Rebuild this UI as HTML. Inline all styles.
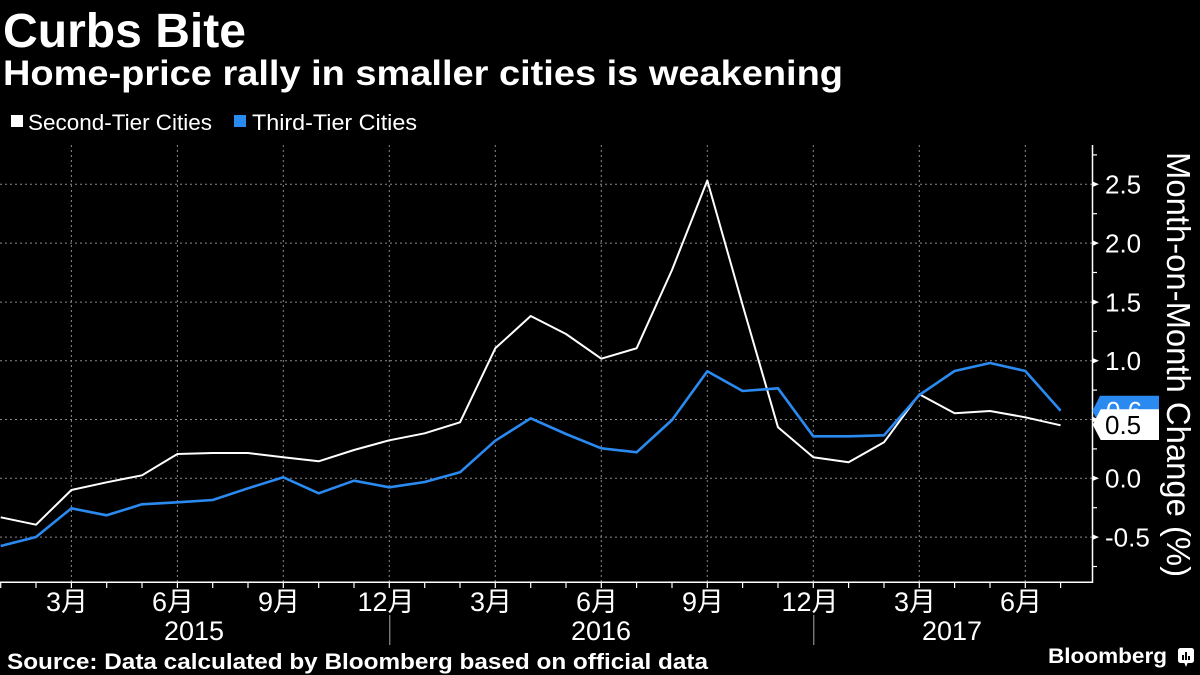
<!DOCTYPE html>
<html>
<head>
<meta charset="utf-8">
<style>
html,body{margin:0;padding:0;background:#000;}
svg{display:block;}
text{font-family:"Liberation Sans","Noto Sans CJK SC",sans-serif;}
</style>
</head>
<body>
<svg width="1200" height="675" viewBox="0 0 1200 675" xmlns="http://www.w3.org/2000/svg">
<rect x="0" y="0" width="1200" height="675" fill="#000"/>

<!-- Title -->
<text x="3" y="47" font-size="48" font-weight="bold" fill="#fff" textLength="243" lengthAdjust="spacingAndGlyphs">Curbs Bite</text>
<text x="3" y="85" font-size="35" font-weight="bold" fill="#fff" textLength="840" lengthAdjust="spacingAndGlyphs">Home-price rally in smaller cities is weakening</text>

<!-- Legend -->
<rect x="11" y="115" width="12" height="12" fill="#fff"/>
<text x="28" y="130" font-size="22" fill="#fff" textLength="184" lengthAdjust="spacingAndGlyphs">Second-Tier Cities</text>
<rect x="234" y="115" width="12" height="12" fill="#2a8af0"/>
<text x="252" y="130" font-size="22" fill="#fff" textLength="165" lengthAdjust="spacingAndGlyphs">Third-Tier Cities</text>

<!-- Horizontal grid -->
<g stroke="#8a8a8a" stroke-width="1" stroke-dasharray="2,3">
<line x1="0" y1="184.3" x2="1092" y2="184.3"/>
<line x1="0" y1="243.1" x2="1092" y2="243.1"/>
<line x1="0" y1="302.1" x2="1092" y2="302.1"/>
<line x1="0" y1="360.7" x2="1092" y2="360.7"/>
<line x1="0" y1="419.5" x2="1092" y2="419.5"/>
<line x1="0" y1="478.3" x2="1092" y2="478.3"/>
<line x1="0" y1="537.1" x2="1092" y2="537.1"/>
<!-- Vertical grid -->
<line x1="71.4" y1="145" x2="71.4" y2="582"/>
<line x1="177.4" y1="145" x2="177.4" y2="582"/>
<line x1="283.3" y1="145" x2="283.3" y2="582"/>
<line x1="389.3" y1="145" x2="389.3" y2="582"/>
<line x1="495.3" y1="145" x2="495.3" y2="582"/>
<line x1="601.3" y1="145" x2="601.3" y2="582"/>
<line x1="707.3" y1="145" x2="707.3" y2="582"/>
<line x1="813.3" y1="145" x2="813.3" y2="582"/>
<line x1="919.3" y1="145" x2="919.3" y2="582"/>
<line x1="1025.3" y1="145" x2="1025.3" y2="582"/>
</g>

<!-- Series: Second-Tier (white) -->
<polyline fill="none" stroke="#fff" stroke-width="2" stroke-linejoin="round"
points="0.7,517.3 36.0,524.7 71.4,490 106.7,482.3 142.0,475.3 177.4,454 212.7,453 248.0,453 283.3,457.3 318.7,461.3 354.0,450 389.3,440.3 424.7,433.3 460.0,422.3 495.3,348.3 530.7,316 566.0,334 601.3,358.7 636.6,348.3 672.0,270 707.3,180.5 742.6,305 778.0,427.3 813.3,457.3 848.6,462.3 884.0,442.3 919.3,394.3 954.6,413.3 990.0,411 1025.3,417.3 1060.6,425.3"/>

<!-- Series: Third-Tier (blue) -->
<polyline fill="none" stroke="#2a8af0" stroke-width="2.6" stroke-linejoin="round"
points="0.7,546 36.0,537 71.4,508.3 106.7,515.3 142.0,504.3 177.4,502.3 212.7,500 248.0,488.3 283.3,477.3 318.7,493.3 354.0,480.7 389.3,487.3 424.7,482 460.0,472.3 495.3,440.7 530.7,418.3 566.0,434 601.3,448.3 636.6,452.3 672.0,420 707.3,371.3 742.6,391 778.0,388.3 813.3,436.3 848.6,436.3 884.0,435.3 919.3,395 954.6,371 990.0,363 1025.3,371 1060.6,410.7"/>

<!-- Axes -->
<line x1="0" y1="582.3" x2="1092.5" y2="582.3" stroke="#fff" stroke-width="1.5"/>
<line x1="1092.5" y1="145" x2="1092.5" y2="583" stroke="#fff" stroke-width="1.5"/>

<!-- Bottom month ticks -->
<g stroke="#fff" stroke-width="1.2">
<line x1="0.7" y1="582" x2="0.7" y2="588"/>
<line x1="36.0" y1="582" x2="36.0" y2="588"/>
<line x1="71.4" y1="582" x2="71.4" y2="588"/>
<line x1="106.7" y1="582" x2="106.7" y2="588"/>
<line x1="142.0" y1="582" x2="142.0" y2="588"/>
<line x1="177.4" y1="582" x2="177.4" y2="588"/>
<line x1="212.7" y1="582" x2="212.7" y2="588"/>
<line x1="248.0" y1="582" x2="248.0" y2="588"/>
<line x1="283.3" y1="582" x2="283.3" y2="588"/>
<line x1="318.7" y1="582" x2="318.7" y2="588"/>
<line x1="354.0" y1="582" x2="354.0" y2="588"/>
<line x1="389.3" y1="582" x2="389.3" y2="588"/>
<line x1="424.7" y1="582" x2="424.7" y2="588"/>
<line x1="460.0" y1="582" x2="460.0" y2="588"/>
<line x1="495.3" y1="582" x2="495.3" y2="588"/>
<line x1="530.7" y1="582" x2="530.7" y2="588"/>
<line x1="566.0" y1="582" x2="566.0" y2="588"/>
<line x1="601.3" y1="582" x2="601.3" y2="588"/>
<line x1="636.6" y1="582" x2="636.6" y2="588"/>
<line x1="672.0" y1="582" x2="672.0" y2="588"/>
<line x1="707.3" y1="582" x2="707.3" y2="588"/>
<line x1="742.6" y1="582" x2="742.6" y2="588"/>
<line x1="778.0" y1="582" x2="778.0" y2="588"/>
<line x1="813.3" y1="582" x2="813.3" y2="588"/>
<line x1="848.6" y1="582" x2="848.6" y2="588"/>
<line x1="884.0" y1="582" x2="884.0" y2="588"/>
<line x1="919.3" y1="582" x2="919.3" y2="588"/>
<line x1="954.6" y1="582" x2="954.6" y2="588"/>
<line x1="990.0" y1="582" x2="990.0" y2="588"/>
<line x1="1025.3" y1="582" x2="1025.3" y2="588"/>
<line x1="1060.6" y1="582" x2="1060.6" y2="588"/>
</g>
<!-- Year separators -->
<line x1="389.8" y1="615" x2="389.8" y2="645" stroke="#aaa" stroke-width="1"/>
<line x1="813.8" y1="615" x2="813.8" y2="645" stroke="#aaa" stroke-width="1"/>

<!-- Month labels -->
<g font-size="27" fill="#fff" text-anchor="middle">
<text x="67" y="611">3月</text>
<text x="173" y="611">6月</text>
<text x="279" y="611">9月</text>
<text x="386" y="611">12月</text>
<text x="491" y="611">3月</text>
<text x="597" y="611">6月</text>
<text x="703" y="611">9月</text>
<text x="810" y="611">12月</text>
<text x="915" y="611">3月</text>
<text x="1021" y="611">6月</text>
</g>
<!-- Year labels -->
<g font-size="27" fill="#fff" text-anchor="middle">
<text x="194" y="640">2015</text>
<text x="601" y="640">2016</text>
<text x="952" y="640">2017</text>
</g>

<!-- Right axis ticks -->
<g fill="#fff">
<polygon points="1092,181.3 1099,184.3 1092,187.3"/>
<polygon points="1092,240.1 1099,243.1 1092,246.1"/>
<polygon points="1092,299.1 1099,302.1 1092,305.1"/>
<polygon points="1092,357.7 1099,360.7 1092,363.7"/>
<polygon points="1092,416.5 1099,419.5 1092,422.5"/>
<polygon points="1092,475.3 1099,478.3 1092,481.3"/>
<polygon points="1092,534.1 1099,537.1 1092,540.1"/>
</g>
<g stroke="#fff" stroke-width="1.2">
<line x1="1092" y1="154.9" x2="1097" y2="154.9"/>
<line x1="1092" y1="213.7" x2="1097" y2="213.7"/>
<line x1="1092" y1="272.5" x2="1097" y2="272.5"/>
<line x1="1092" y1="331.3" x2="1097" y2="331.3"/>
<line x1="1092" y1="390.1" x2="1097" y2="390.1"/>
<line x1="1092" y1="448.9" x2="1097" y2="448.9"/>
<line x1="1092" y1="507.7" x2="1097" y2="507.7"/>
<line x1="1092" y1="566.5" x2="1097" y2="566.5"/>
</g>

<!-- Right axis labels -->
<g font-size="26" fill="#fff">
<text x="1105" y="193.5">2.5</text>
<text x="1105" y="252.3">2.0</text>
<text x="1105" y="311.3">1.5</text>
<text x="1105" y="369.9">1.0</text>
<text x="1105" y="487.5">0.0</text>
<text x="1105" y="546.3">-0.5</text>
</g>

<!-- Value tags -->
<polygon points="1100,395.7 1159,395.7 1159,425.7 1100,425.7 1092.5,410.7" fill="#2a8af0"/>
<text x="1106" y="420" font-size="26" fill="#fff">0.6</text>
<polygon points="1100.7,409.3 1159,409.3 1159,440 1100.7,440 1092.7,424.7" fill="#fff"/>
<text x="1105" y="434" font-size="26" fill="#000">0.5</text>

<!-- Axis title -->
<text transform="translate(1167,152) rotate(90)" x="0" y="0" font-size="33" fill="#fff" textLength="425" lengthAdjust="spacingAndGlyphs">Month-on-Month Change (%)</text>

<!-- Footer -->
<text x="7" y="669" font-size="22" font-weight="bold" fill="#fff" textLength="701" lengthAdjust="spacingAndGlyphs">Source: Data calculated by Bloomberg based on official data</text>
<text x="1048" y="663" font-size="21" font-weight="bold" fill="#fff" textLength="119" lengthAdjust="spacingAndGlyphs">Bloomberg</text>
<g>
<rect x="1178" y="648" width="16" height="15" rx="2.5" fill="#fff"/>
<polygon points="1184,662 1188,662 1186,667" fill="#fff"/>
<rect x="1182" y="655" width="2" height="5" fill="#000"/>
<rect x="1185" y="652" width="2" height="8" fill="#000"/>
<rect x="1188" y="656" width="2" height="4" fill="#000"/>
</g>
</svg>
</body>
</html>
